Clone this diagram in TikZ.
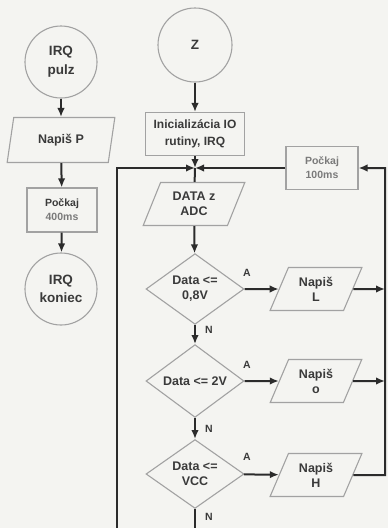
\documentclass[tikz,border=0pt]{standalone}
\usepackage{fontspec}
\setmainfont{Liberation Sans}
\usetikzlibrary{shapes.geometric,arrows.meta}
\definecolor{bg}{HTML}{F4F4F1}
\definecolor{edgecol}{HTML}{A2A2A2}
\definecolor{ink}{HTML}{3A3A3A}
\definecolor{wirecol}{HTML}{2B2B2B}
\definecolor{soft}{HTML}{7A7A7A}
\begin{document}
\begin{tikzpicture}[x=1pt,y=-1pt,
 every node/.style={font=\fontsize{12.5}{15}\selectfont\bfseries, text=ink, align=center, inner sep=0pt},
 term/.style={circle, draw=edgecol, line width=1.1pt, minimum size=72pt},
 proc/.style={rectangle, draw=edgecol, line width=1.1pt},
 io/.style={trapezium, trapezium left angle=65, trapezium right angle=115, trapezium stretches=true, draw=edgecol, line width=1.1pt, minimum height=43pt},
 dec/.style={diamond, draw=edgecol, line width=1.1pt, minimum width=98pt, minimum height=68pt},
 wire/.style={draw=wirecol, line width=2pt},
 arr/.style={wire, -{Latex[length=9pt,width=7.5pt]}},
 lab/.style={font=\fontsize{10.5}{11}\selectfont\bfseries, text=ink},
 small/.style={font=\fontsize{10.5}{14}\selectfont\bfseries}
]
\fill[bg] (0,0) rectangle (388,528);
\useasboundingbox (0,0) rectangle (388,528);

% left column
\node[term, font=\fontsize{13.5}{19}\selectfont\bfseries] (irqp) at (61,62) {IRQ\\pulz};
\node[io, trapezium left angle=75, trapezium right angle=105, minimum width=108pt, minimum height=45pt] (napP) at (61,140) {Napiš P};
\node[proc, small, minimum width=70pt, minimum height=44pt] (w400) at (62,210) {Počkaj\\{\color{soft}400ms}};
\node[term, font=\fontsize{13.5}{18}\selectfont\bfseries] (irqk) at (61,289) {IRQ\\koniec};

\draw[arr] (irqp) -- (napP);
\draw[arr] (napP) -- (w400);
\draw[arr] (w400) -- (irqk);

% main column
\node[term, minimum size=74pt, font=\fontsize{13.5}{15}\selectfont\bfseries] (z) at (195,45) {Z};
\node[proc, minimum width=99pt, minimum height=43pt, font=\fontsize{12}{17}\selectfont\bfseries] (init) at (195,134) {Inicializácia IO\\rutiny, IRQ};
\coordinate (merge) at (195,168);
\node[proc, small, text=soft, minimum width=72pt, minimum height=43pt] (w100) at (322,168) {Počkaj\\100ms};
\node[io, minimum width=102pt] (data) at (194,204) {DATA z\\ADC};

\node[dec] (d1) at (195,289) {Data <=\\0,8V};
\node[io, minimum width=92pt] (napL) at (316,289) {Napiš\\L};
\node[dec] (d2) at (195,381) {Data <= 2V};
\node[io, minimum width=92pt] (napO) at (316,381) {Napiš\\o};
\node[dec] (d3) at (195,474) {Data <=\\VCC};
\node[io, minimum width=92pt] (napH) at (316,475) {Napiš\\H};

\coordinate (rL) at (385,289);
\coordinate (rO) at (385,381);
\coordinate (rH) at (385,475);
\coordinate (loopB) at (117,528);
\coordinate (endN) at (195,528);

\draw[arr] (z) -- (init);
\draw[arr] (init) -- (merge);
\draw[arr] (loopB) |- (merge);
\draw[arr] (w100) -- (merge);
\draw[wire] (merge) -- (data);
\draw[arr] (data) -- (d1);

\draw[arr] (d1) -- (napL);
\draw[arr] (d2) -- (napO);
\draw[arr] (d3) -- (napH);
\draw[arr] (napL) -- (rL);
\draw[arr] (napO) -- (rO);
\draw[arr] (napH) -- (rH) |- (w100);

\draw[arr] (d1) -- (d2);
\draw[arr] (d2) -- (d3);
\draw[wire] (d3) -- (endN);

\node[lab] (a1) at (247,273) {A};
\node[lab] (a2) at (247,365) {A};
\node[lab] (a3) at (247,457) {A};
\node[lab] (n1) at (209,330) {N};
\node[lab] (n2) at (209,429) {N};
\node[lab] (n3) at (209,517) {N};
\end{tikzpicture}
\end{document}
